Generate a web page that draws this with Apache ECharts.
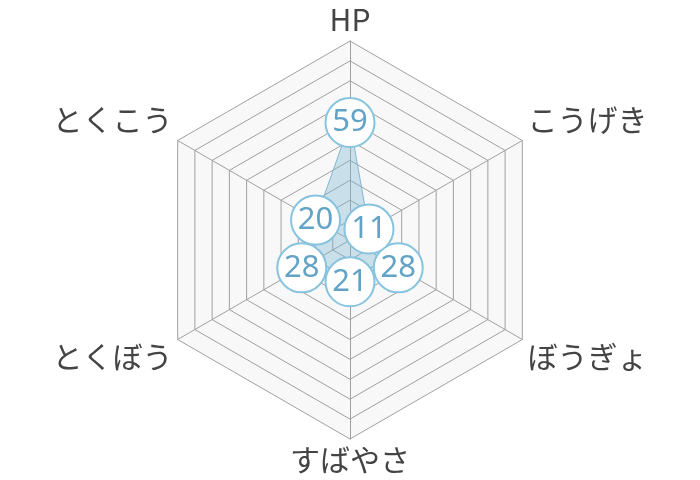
<!DOCTYPE html>
<html><head><meta charset="utf-8">
<script src="https://cdn.jsdelivr.net/npm/echarts@6/dist/echarts.min.js"></script>
<style>html,body{margin:0;padding:0;background:#fff}#c{width:700px;height:480px}</style>
</head><body><div id="c"></div>
<script>
// counterclockwise order from top (ECharts radar layout)
const indicatorNames = ['HP', 'とくこう', 'とくぼう', 'すばやさ', 'ぼうぎょ', 'こうげき'];
const statValues = [59, 20, 28, 21, 28, 11];
const maxValue = 100;
const upperNames = ['とくこう', 'こうげき'];
const lowerNames = ['とくぼう', 'ぼうぎょ'];

const chart = echarts.init(document.getElementById('c'));
chart.setOption({
  animation: false,
  radar: {
    center: [350, 240],
    radius: 199,
    startAngle: 90,
    splitNumber: 10,
    shape: 'polygon',
    nameGap: 6,
    indicator: indicatorNames.map(n => ({ name: n, max: maxValue, min: 0 })),
    axisName: {
      color: '#444', fontSize: 30, fontFamily: 'Noto Sans CJK JP',
      formatter: function (name) {
        if (upperNames.indexOf(name) >= 0) return '{up|' + name + '}';
        if (lowerNames.indexOf(name) >= 0) return '{low|' + name + '}';
        return '{n|' + name + '}';
      },
      rich: {
        n: { color: '#444', fontSize: 30, fontFamily: 'Noto Sans CJK JP' },
        up: { color: '#444', fontSize: 30, fontFamily: 'Noto Sans CJK JP', padding: [0, 0, 36, 0] },
        low: { color: '#444', fontSize: 30, fontFamily: 'Noto Sans CJK JP', padding: [28, 0, 0, 0] }
      }
    },
    axisLine: { lineStyle: { color: '#a0a0a0', width: 1 } },
    splitLine: { lineStyle: { color: '#a0a0a0', width: 1 } },
    splitArea: { show: true, areaStyle: { color: ['#f8f8f8'] } }
  },
  series: [{
    type: 'radar',
    symbol: 'circle',
    symbolSize: 49,
    lineStyle: { color: '#86b8d3', width: 1 },
    areaStyle: { color: 'rgba(115,178,210,0.5)' },
    itemStyle: { color: '#fff', borderColor: '#88c4df', borderWidth: 2 },
    label: {
      show: true, position: 'inside', color: '#62a3c6', fontSize: 31,
      fontFamily: 'Noto Sans', fontWeight: 'normal'
    },
    data: [{ value: statValues }]
  }]
});
</script></body></html>
